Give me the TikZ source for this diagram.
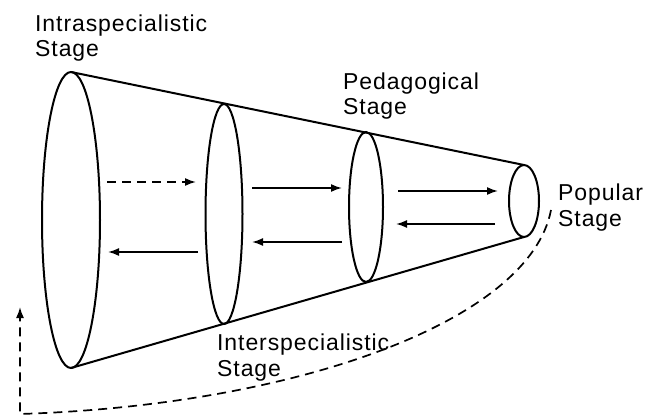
\documentclass[tikz,border=0pt]{standalone}
\usepackage{fontspec}
\setmainfont{Liberation Sans}
\newfontfamily\lblfont[LetterSpace=4]{Liberation Sans}
\usetikzlibrary{arrows.meta,shapes.geometric}
\begin{document}
\begin{tikzpicture}[x=1pt,y=-1pt,
  cone/.style={line width=2pt},
  stage/.style={draw, ellipse, line width=2pt, inner sep=0pt, outer sep=0pt},
  flow/.style={line width=1.7pt, -{Latex[length=11pt,width=8pt]}},
  back/.style={flow, dash pattern=on 9pt off 6pt},
  lbl/.style={font=\lblfont\fontsize{23}{25.5}\selectfont, align=left, inner sep=0pt, anchor=base west}]
\useasboundingbox (0,0) rectangle (651,417);
% stage ellipses
\node[stage, minimum width=58pt, minimum height=296pt] (e1) at (71,220) {};
\node[stage, minimum width=37pt, minimum height=220pt] (e2) at (224,214) {};
\node[stage, minimum width=34pt, minimum height=150pt] (e3) at (366,207) {};
\node[stage, minimum width=30pt, minimum height=72pt] (e4) at (524,201) {};
% cone sides
\draw[cone] (e1.north) -- (e4.north);
\draw[cone] (e1.south) -- (e4.south);
% labels (anchored at the baseline of the last line)
\node[lbl] (l1) at (35,57) {Intraspecialistic\\Stage};
\node[lbl] (l2) at (343,115) {Pedagogical\\Stage};
\node[lbl] (l3) at (558,226) {Popular\\Stage};
\node[lbl] (l4) at (217,376) {Interspecialistic\\Stage};
% arrow end points
\coordinate (a1s) at (107,182); \coordinate (a1e) at (196,182);
\coordinate (a2s) at (198,252); \coordinate (a2e) at (108,252);
\coordinate (a3s) at (252,188); \coordinate (a3e) at (342,188);
\coordinate (a4s) at (342,242); \coordinate (a4e) at (252,242);
\coordinate (a5s) at (398,191); \coordinate (a5e) at (498,191);
\coordinate (a6s) at (495,224); \coordinate (a6e) at (396,224);
\coordinate (rs) at (551,210);
\coordinate (rc) at (20,414);
\coordinate (re) at (20,307);
\draw[back] (a1s) -- (a1e);
\draw[flow] (a2s) -- (a2e);
\draw[flow] (a3s) -- (a3e);
\draw[flow] (a4s) -- (a4e);
\draw[flow] (a5s) -- (a5e);
\draw[flow] (a6s) -- (a6e);
\draw[back] (rs) .. controls (530,320) and (300,405) .. (rc) -- (re);
\end{tikzpicture}
\end{document}
